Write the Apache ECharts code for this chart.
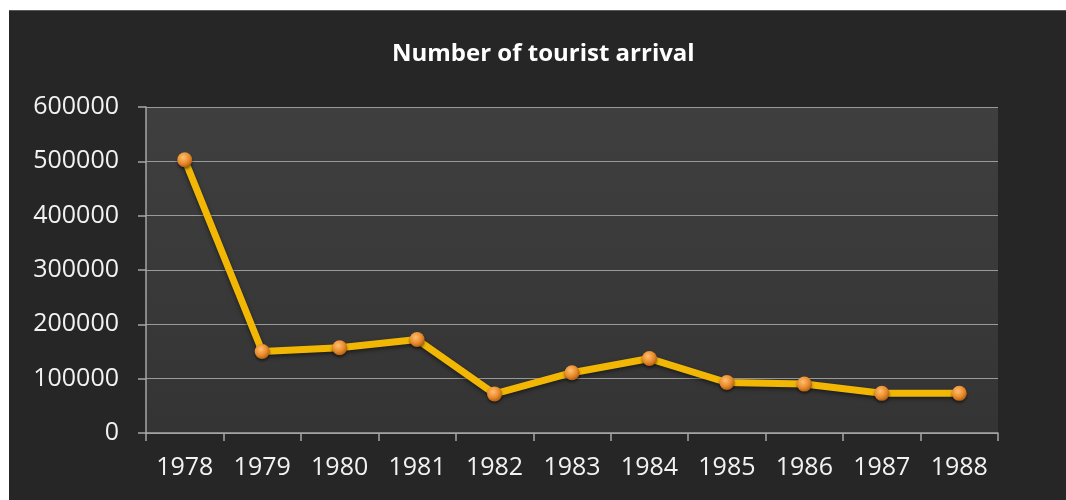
<!DOCTYPE html>
<html>
<head>
<meta charset="utf-8">
<script src="https://cdn.jsdelivr.net/npm/echarts@6/dist/echarts.min.js"></script>
<style>
html,body{margin:0;padding:0;background:#ffffff;width:1066px;height:500px;overflow:hidden;}
#c{position:absolute;left:9px;top:10px;width:1057px;height:490px;background:#262626;border-top:1px solid #5a5a5a;box-sizing:border-box;}
</style>
</head>
<body>
<div id="c"></div>
<script>
const titleText = 'Number of tourist arrival';
const years = ['1978','1979','1980','1981','1982','1983','1984','1985','1986','1987','1988'];
const arrivals = [503000, 150000, 157000, 172000, 72000, 111000, 137000, 93000, 90000, 73000, 73000];

const chart = echarts.init(document.getElementById('c'), null, {renderer:'canvas'});
const font = '"Open Sans", "Liberation Sans", sans-serif';
chart.setOption({
  backgroundColor: '#262626',
  animation: false,
  title: {
    text: titleText,
    left: 378,
    top: 26,
    textStyle: {color:'#ffffff', fontSize:24, fontWeight:'bold', fontFamily: font}
  },
  grid: {
    left: 137, right: 68, top: 96, bottom: 67,
    show: true,
    borderWidth: 0,
    backgroundColor: new echarts.graphic.LinearGradient(0,0,0,1,[
      {offset:0,color:'#3f3f3f'},{offset:1,color:'#343434'}
    ])
  },
  xAxis: {
    type: 'category',
    data: years,
    boundaryGap: true,
    axisLine: {show:true, lineStyle:{color:'#a6a6a6', width:1.5}},
    axisTick: {show:true, length:8, lineStyle:{color:'#a6a6a6', width:1.5}},
    axisLabel: {color:'#f2f2f2', fontSize:25, fontFamily: font, margin:22},
    splitLine: {show:false}
  },
  yAxis: {
    type: 'value',
    min: 0, max: 600000, interval: 100000,
    axisLine: {show:true, lineStyle:{color:'#a6a6a6', width:1.5}},
    axisTick: {show:true, length:8, lineStyle:{color:'#a6a6a6', width:1.5}},
    axisLabel: {color:'#f2f2f2', fontSize:25, fontFamily: font, margin:27, formatter: v => String(v)},
    splitLine: {show:true, lineStyle:{color:'#9a9a9a', width:1}}
  },
  series: [{
    type: 'line',
    data: arrivals,
    symbol: 'circle',
    symbolSize: 15,
    lineStyle: {color:'#f2b705', width:7, shadowColor:'rgba(0,0,0,0.5)', shadowBlur:4, shadowOffsetY:2},
    itemStyle: {
      color: new echarts.graphic.RadialGradient(0.4,0.35,0.7,[
        {offset:0,color:'#ffc070'},{offset:0.6,color:'#e8892a'},{offset:1,color:'#a85a10'}
      ]),
      borderWidth: 0,
      shadowColor:'rgba(0,0,0,0.5)', shadowBlur:3, shadowOffsetY:2
    },
    z: 3
  }]
});
</script>
</body>
</html>
